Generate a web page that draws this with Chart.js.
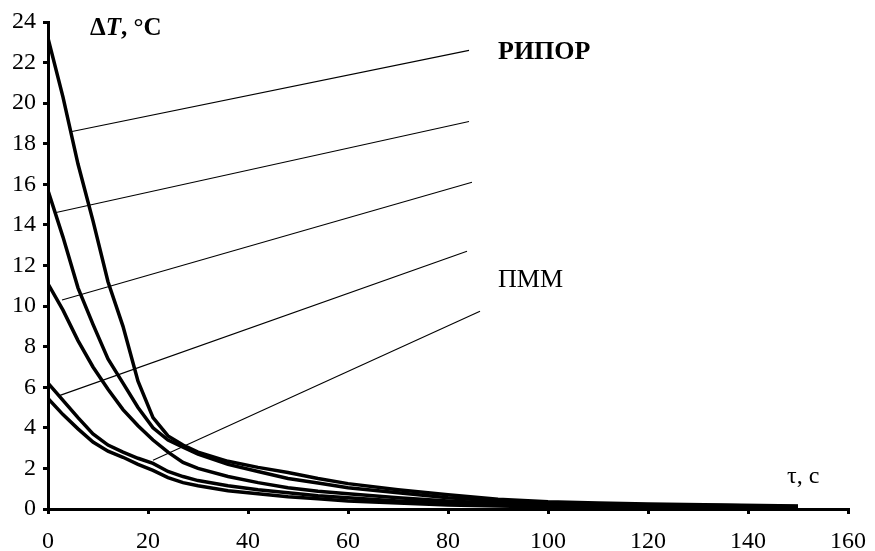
<!DOCTYPE html>
<html>
<head>
<meta charset="utf-8">
<script src="https://cdn.jsdelivr.net/npm/chart.js@4/dist/chart.umd.min.js"></script>
<style>
  body { margin: 0; background: #fff; }
  #chart { display: block; }
</style>
</head>
<body>
<canvas id="chart" width="875" height="551"></canvas>
<script>
// time, s
const times = [0, 3, 6, 9, 12, 15, 18, 21, 24, 27, 30, 36, 42, 48, 54, 60, 70, 80, 90, 100, 110, 120, 135, 150];

// ΔT, °C for the five curves (top = РИПОР ... bottom = ПММ)
const curve1 = [23.2, 20.3, 17.0, 14.2, 11.2, 9.0, 6.3, 4.5, 3.6, 3.15, 2.8, 2.35, 2.05, 1.8, 1.5, 1.25, 0.95, 0.7, 0.48, 0.36, 0.3, 0.25, 0.2, 0.15];
const curve2 = [15.7, 13.4, 10.9, 9.1, 7.4, 6.2, 5.0, 4.0, 3.4, 3.05, 2.7, 2.2, 1.85, 1.5, 1.28, 1.05, 0.8, 0.55, 0.4, 0.3, 0.25, 0.2, 0.17, 0.12];
const curve3 = [11.1, 9.8, 8.3, 7.0, 5.9, 4.9, 4.1, 3.4, 2.8, 2.3, 2.0, 1.6, 1.3, 1.05, 0.88, 0.75, 0.55, 0.4, 0.28, 0.22, 0.18, 0.15, 0.12, 0.1];
const curve4 = [6.2, 5.35, 4.5, 3.7, 3.15, 2.8, 2.5, 2.25, 1.85, 1.6, 1.4, 1.15, 0.95, 0.8, 0.65, 0.55, 0.4, 0.3, 0.22, 0.16, 0.13, 0.1, 0.08, 0.06];
const curve5 = [5.45, 4.65, 3.95, 3.3, 2.85, 2.55, 2.2, 1.9, 1.55, 1.3, 1.15, 0.9, 0.75, 0.6, 0.5, 0.4, 0.3, 0.2, 0.15, 0.1, 0.08, 0.07, 0.05, 0.04];

// leader lines: [t, ΔT] start on curve -> end near label
const leaderStart = [[4.8, 18.6], [1.4, 14.6], [2.8, 10.3], [2.4, 5.6], [21, 2.4]];
const leaderEnd = [[84.2, 22.6], [84.2, 19.1], [84.8, 16.1], [83.8, 12.7], [86.4, 9.75]];

const xTicks = { min: 0, max: 160, step: 20 };
const yTicks = { min: 0, max: 24, step: 2 };

const serif = 'Liberation Serif';

function toPoints(ys) {
  return times.map((t, i) => ({ x: t, y: ys[i] }));
}

const curveSets = [curve1, curve2, curve3, curve4, curve5].map((ys) => ({
  data: toPoints(ys),
  borderColor: '#000',
  borderWidth: 3.5,
  pointRadius: 0,
  tension: 0,
  fill: false,
}));

const leaderSets = leaderStart.map((s, i) => ({
  data: [{ x: s[0], y: s[1] }, { x: leaderEnd[i][0], y: leaderEnd[i][1] }],
  borderColor: '#000',
  borderWidth: 1.1,
  pointRadius: 0,
  tension: 0,
  fill: false,
}));

const textLabels = {
  id: 'textLabels',
  afterDatasetsDraw(chart) {
    const { ctx, scales } = chart;
    const px = (v) => scales.x.getPixelForValue(v);
    const py = (v) => scales.y.getPixelForValue(v);
    ctx.save();
    ctx.fillStyle = '#000';
    ctx.textBaseline = 'middle';
    ctx.textAlign = 'left';

    // ΔT, °C  (T in bold italic)
    let x = px(8.4);
    const y = py(23.7);
    ctx.font = 'bold 25px "' + serif + '"';
    ctx.fillText('Δ', x, y);
    x += ctx.measureText('Δ').width;
    ctx.font = 'italic bold 25px "' + serif + '"';
    ctx.fillText('T', x, y);
    x += ctx.measureText('T').width;
    ctx.font = 'bold 25px "' + serif + '"';
    ctx.fillText(', °C', x, y);

    ctx.font = 'bold 26px "' + serif + '"';
    ctx.fillText('РИПОР', px(90), py(22.5));

    ctx.font = '26px "' + serif + '"';
    ctx.fillText('ПММ', px(90), py(11.3));

    ctx.font = '24px "' + serif + '"';
    ctx.fillText('τ, с', px(147.8), py(1.6));
    ctx.restore();
  },
};

const axisStyle = {
  grid: { drawOnChartArea: false, color: '#000', lineWidth: 3, tickLength: 5 },
  border: { display: true, color: '#000', width: 3 },
};

new Chart(document.getElementById('chart'), {
  type: 'line',
  data: { datasets: [...curveSets, ...leaderSets] },
  options: {
    responsive: false,
    animation: false,
    devicePixelRatio: 1,
    layout: { padding: { top: 22, right: 27, left: 0, bottom: 0 } },
    plugins: { legend: { display: false }, tooltip: { enabled: false } },
    scales: {
      x: {
        type: 'linear',
        min: xTicks.min,
        max: xTicks.max,
        ...axisStyle,
        ticks: { stepSize: xTicks.step, color: '#000', padding: 13, font: { family: serif, size: 24 } },
        afterFit: (s) => { s.height = 42; s.paddingLeft = 0; s.paddingRight = 0; },
      },
      y: {
        min: yTicks.min,
        max: yTicks.max,
        ...axisStyle,
        ticks: { stepSize: yTicks.step, color: '#000', padding: 7, font: { family: serif, size: 24 } },
        afterFit: (s) => { s.width = 48; s.paddingTop = 0; s.paddingBottom = 0; },
      },
    },
  },
  plugins: [textLabels],
});
</script>
</body>
</html>
